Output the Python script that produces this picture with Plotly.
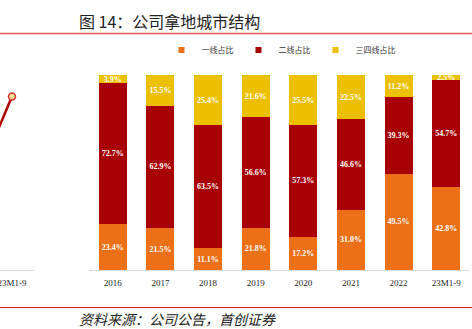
import plotly.graph_objects as go

W, H = 472, 329

# ---- data ----
categories = ["2016", "2017", "2018", "2019", "2020", "2021", "2022", "23M1-9"]
tier1 = [23.4, 21.5, 11.1, 21.8, 17.2, 31.0, 49.5, 42.8]
tier2 = [72.7, 62.9, 63.5, 56.6, 57.3, 46.6, 39.3, 54.7]
tier34 = [3.9, 15.5, 25.4, 21.6, 25.5, 22.5, 11.2, 2.5]
series_names = ["一线占比", "二线占比", "三四线占比"]

# partially visible neighbouring chart (cut off at left edge)
left_categories = ["2022", "23M1-9"]
left_values = [31.0, 89.0]

colors = ["#EC7017", "#A80000", "#ECBF00"]
serif = "Liberation Serif"
cjk = "Noto Sans CJK SC"

fig = go.Figure()

for name, vals, col in zip(series_names, [tier1, tier2, tier34], colors):
    fig.add_trace(go.Bar(
        x=categories, y=vals, name=name, marker=dict(color=col, line=dict(width=0)),
        texttemplate="%{y:.1f}%", textposition="inside", insidetextanchor="middle",
        textangle=0, textfont=dict(color="white", size=8, family=serif, weight="bold"),
        showlegend=False, cliponaxis=False, xaxis="x", yaxis="y",
    ))
    # small square legend markers
    fig.add_trace(go.Scatter(
        x=[None], y=[None], mode="markers", name=name,
        marker=dict(symbol="square", size=6, color=col), showlegend=True,
        xaxis="x", yaxis="y",
    ))

fig.add_trace(go.Scatter(
    x=left_categories, y=left_values, mode="lines+markers",
    line=dict(color="#B00000", width=2.5),
    marker=dict(size=7, color="#F7DC95", line=dict(color="#D63030", width=1.5)),
    showlegend=False, xaxis="x2", yaxis="y2", cliponaxis=True,
))

y_dom = [1 - 270 / H, 1 - 75 / H]

fig.update_layout(
    width=W, height=H, margin=dict(l=0, r=0, t=0, b=0),
    paper_bgcolor="white", plot_bgcolor="white",
    barmode="stack", bargap=0.41,
    uniformtext=dict(minsize=8, mode="show"),
    xaxis=dict(domain=[89 / W, 470 / W], type="category", categoryarray=categories,
               showline=True, linecolor="#D9D9D9", linewidth=1, ticks="",
               ticklabelstandoff=4,
               showgrid=False, zeroline=False, automargin=False,
               tickfont=dict(family=serif, size=9, color="#222")),
    yaxis=dict(domain=y_dom, range=[0, 100.15], visible=False, showgrid=False, automargin=False),
    xaxis2=dict(domain=[0, 34 / W], type="category", categoryarray=left_categories,
                range=[0.748, 1.463], showline=True, linecolor="#D9D9D9", linewidth=1,
                ticks="", ticklabelstandoff=4, showgrid=False, zeroline=False, anchor="y2",
                automargin=False,
                tickfont=dict(family=serif, size=9, color="#222")),
    yaxis2=dict(domain=y_dom, range=[0, 100], visible=False, anchor="x2", automargin=False),
    legend=dict(orientation="h", x=281 / W, xanchor="center", y=1 - 50 / H, yanchor="middle",
                font=dict(family=cjk, size=8, color="#333"), bgcolor="rgba(0,0,0,0)",
                itemwidth=30, tracegroupgap=0, traceorder="normal"),
    shapes=[
        dict(type="line", xref="paper", yref="paper", x0=0, x1=1,
             y0=1 - 33.5 / H, y1=1 - 33.5 / H, line=dict(color="#E4505E", width=1.5)),
        dict(type="line", xref="paper", yref="paper", x0=0, x1=1,
             y0=1 - 307.5 / H, y1=1 - 307.5 / H, line=dict(color="#E01010", width=1.2)),
    ],
    annotations=[
        dict(text="图 14：公司拿地城市结构", xref="paper", yref="paper",
             x=77 / W, y=1 - 20.5 / H, xanchor="left", yanchor="middle", showarrow=False,
             font=dict(family=cjk, size=16, color="#222")),
        dict(text="<i>资料来源：公司公告，首创证券</i>", xref="paper", yref="paper",
             x=77 / W, y=1 - 319 / H, xanchor="left", yanchor="middle", showarrow=False,
             font=dict(family=cjk, size=14, color="#222")),
    ],
)

fig.write_html("out.html")
